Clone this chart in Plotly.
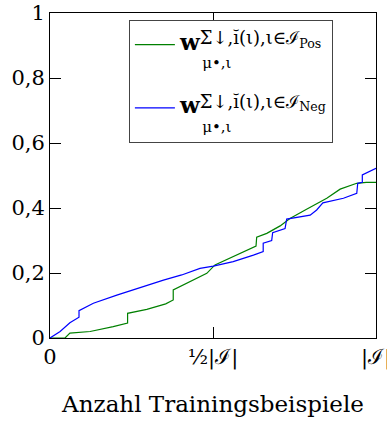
import plotly.graph_objects as go

# Data (x as fraction of |I|)
pos_x = [0.0, 0.046, 0.061, 0.123, 0.194, 0.238, 0.238, 0.297, 0.355, 0.378, 0.378, 0.419, 0.44, 0.481,
         0.506, 0.562, 0.632, 0.634, 0.665, 0.706, 0.736, 0.787, 0.849, 0.89, 0.941, 0.97, 1.0]
pos_y = [0.0, 0.0, 0.015, 0.02, 0.035, 0.046, 0.076, 0.088, 0.105, 0.117, 0.148, 0.168, 0.178, 0.199,
         0.225, 0.25, 0.283, 0.31, 0.322, 0.345, 0.368, 0.396, 0.43, 0.458, 0.476, 0.479, 0.479]

neg_x = [0.0, 0.031, 0.061, 0.089, 0.089, 0.133, 0.205, 0.297, 0.348, 0.404, 0.46, 0.501, 0.562, 0.624,
         0.654, 0.654, 0.68, 0.683, 0.721, 0.726, 0.798, 0.818, 0.837, 0.9, 0.941, 0.944, 0.958, 0.958, 1.0]
neg_y = [0.0, 0.02, 0.047, 0.064, 0.084, 0.107, 0.132, 0.163, 0.178, 0.194, 0.214, 0.221, 0.235, 0.255,
         0.266, 0.292, 0.30, 0.324, 0.337, 0.366, 0.378, 0.394, 0.416, 0.43, 0.445, 0.476, 0.479, 0.502, 0.522]

x_tick_vals = [0, 0.5, 1]
x_tick_text = ["0", "½|ℐ|", "|ℐ|"]
y_tick_vals = [0, 0.2, 0.4, 0.6, 0.8, 1]
y_tick_text = ["0", "0,2", "0,4", "0,6", "0,8", "1"]

def legend_name(tag):
    return ("<span style='font-size:23px'><b>w</b></span>"
            "<sup><span style='font-size:18px'>Σ↓,ĭ(ι),ι∈ℐ<sub>" + tag + "</sub></span></sup>"
            "<br>\u00a0\u00a0\u00a0\u00a0\u00a0<span style='font-size:15px'>μ•,ι</span>")

FONT = "DejaVu Serif"

fig = go.Figure()
fig.add_trace(go.Scatter(x=pos_x, y=pos_y, mode="lines", name=legend_name("Pos"),
                         line=dict(color="#008000", width=1.2), legendgroup="a"))
fig.add_trace(go.Scatter(x=neg_x, y=neg_y, mode="lines", name=legend_name("Neg"),
                         line=dict(color="#0000ff", width=1.2), legendgroup="b"))

axis_common = dict(showgrid=False, zeroline=False, showline=True, linecolor="black", linewidth=1,
                   mirror="ticks", ticks="inside", ticklen=11, tickcolor="black", tickwidth=1,
                   automargin=False,
                   tickfont=dict(family=FONT, size=21, color="black"))

fig.update_xaxes(range=[0, 1], tickvals=x_tick_vals, ticktext=x_tick_text, ticklabeloverflow="allow",
                 title=dict(text="Anzahl Trainingsbeispiele", font=dict(family=FONT, size=23, color="black"),
                            standoff=26),
                 **axis_common)
fig.update_yaxes(range=[0, 1], tickvals=y_tick_vals, ticktext=y_tick_text, **axis_common)

fig.update_layout(
    width=387, height=426,
    margin=dict(l=50, r=11, t=13, b=88),
    plot_bgcolor="white", paper_bgcolor="white",
    showlegend=True,
    legend=dict(x=0.242, y=0.978, xanchor="left", yanchor="top", valign="top",
                bgcolor="white", bordercolor="#444", borderwidth=1,
                font=dict(family=FONT, size=14, color="black"),
                title=dict(text="\u00a0", font=dict(size=6)),
                itemwidth=40, tracegroupgap=24),
)

fig.write_html("out.html")
